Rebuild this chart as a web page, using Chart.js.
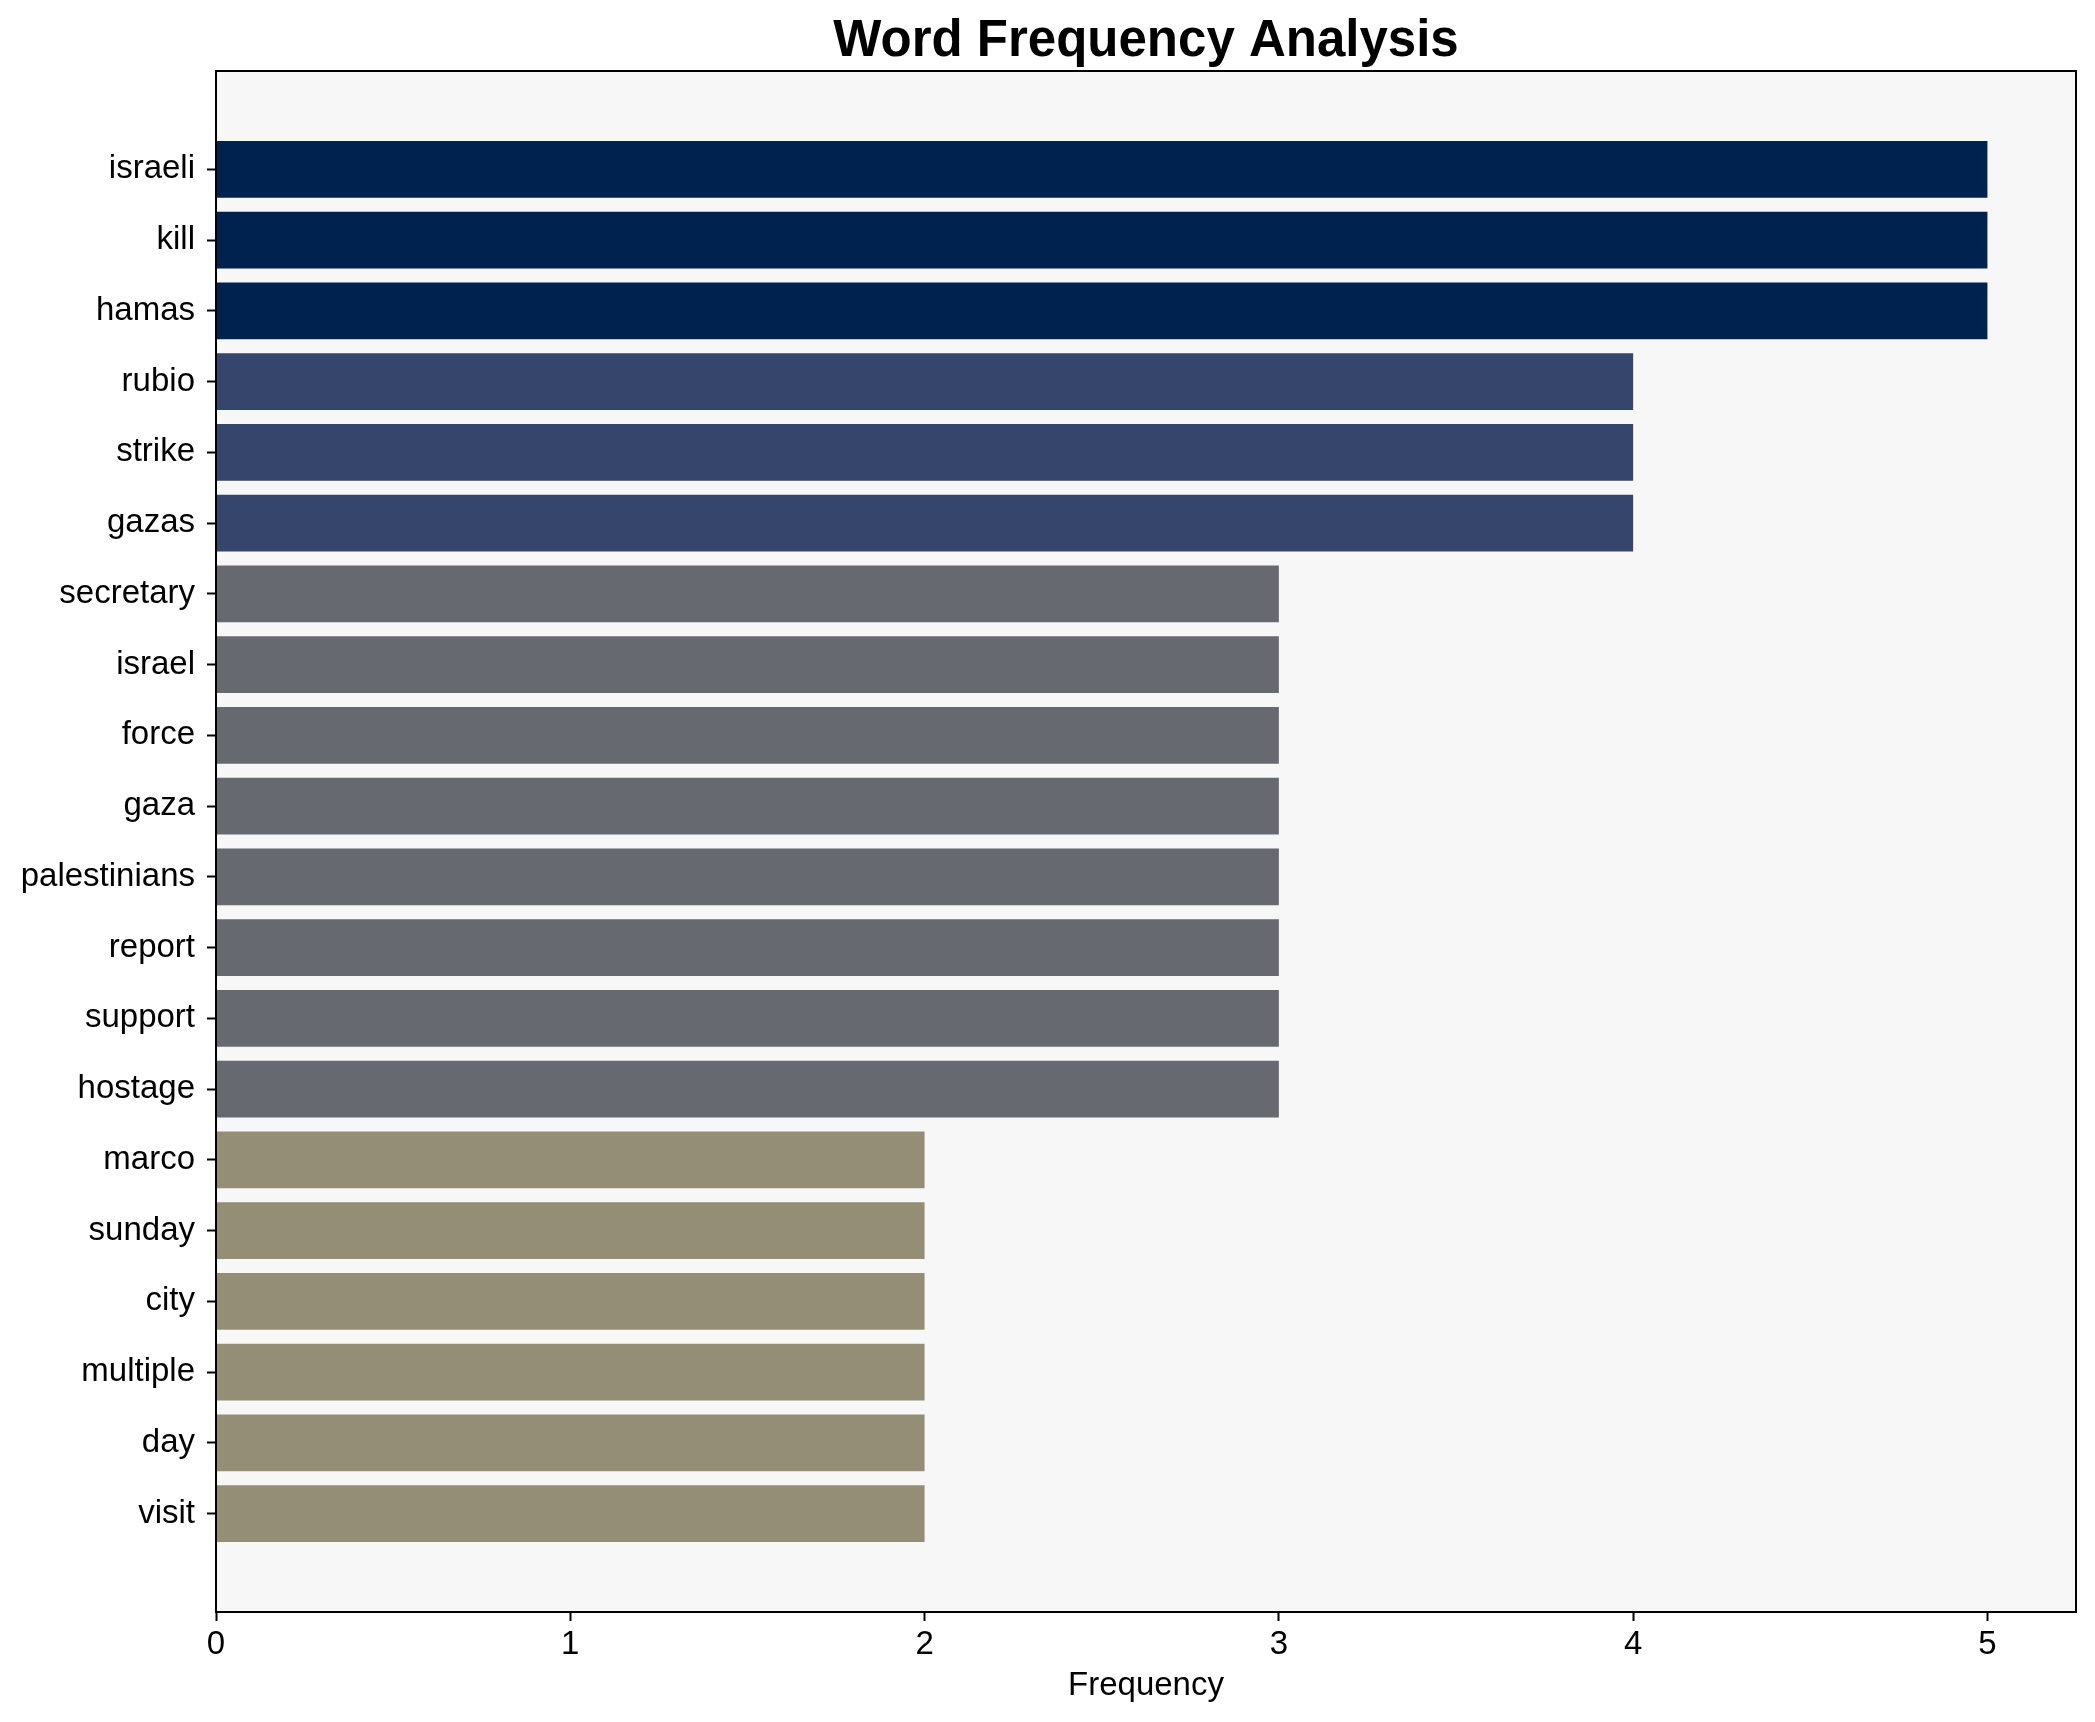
<!DOCTYPE html>
<html>
<head>
<meta charset="utf-8">
<script src="https://cdn.jsdelivr.net/npm/chart.js@4/dist/chart.umd.min.js"></script>
<style>
  body { margin: 0; background: #ffffff; }
  canvas { display: block; }
</style>
</head>
<body>
<canvas id="wordChart" width="2095" height="1722"></canvas>
<script>
// Word frequency data (top to bottom)
const words = ["israeli", "kill", "hamas", "rubio", "strike", "gazas", "secretary", "israel", "force", "gaza",
  "palestinians", "report", "support", "hostage", "marco", "sunday", "city", "multiple", "day", "visit"];
const counts = [5, 5, 5, 4, 4, 4, 3, 3, 3, 3, 3, 3, 3, 3, 2, 2, 2, 2, 2, 2];
const xTicks = [0, 1, 2, 3, 4, 5];

// colour per frequency value (cividis-like)
const levelColors = { 5: "#00224e", 4: "#35456c", 3: "#666970", 2: "#948e77" };

const FONT = "'Liberation Sans', Arial, sans-serif";

// Plot background + frame + title
const framePlugin = {
    id: "frame",
    beforeDraw(chart) {
        const { ctx, chartArea: a } = chart;
        ctx.save();
        ctx.fillStyle = "#f7f7f7";
        ctx.fillRect(a.left, a.top, a.right - a.left, a.bottom - a.top);
        ctx.restore();
    },
    afterDraw(chart) {
        const { ctx, chartArea: a } = chart;
        ctx.save();
        ctx.strokeStyle = "#000";
        ctx.lineWidth = 2;
        ctx.strokeRect(a.left, a.top, a.right - a.left, a.bottom - a.top);
        ctx.fillStyle = "#000";
        ctx.font = "bold 51px " + FONT;
        ctx.textAlign = "center";
        ctx.textBaseline = "alphabetic";
        ctx.fillText("Word Frequency Analysis", (a.left + a.right) / 2, 56);
        ctx.restore();
    }
};

const ctx = document.getElementById("wordChart").getContext("2d");

new Chart(ctx, {
    type: "bar",
    data: {
        datasets: [{
            data: counts.map((c, i) => ({ x: c, y: i })),
            backgroundColor: counts.map(c => levelColors[c]),
            barPercentage: 0.8,
            categoryPercentage: 1.0,
            borderWidth: 0
        }]
    },
    options: {
        indexAxis: "y",
        responsive: false,
        devicePixelRatio: 1,
        animation: false,
        layout: { padding: { top: 71, right: 19, left: 0, bottom: 0 } },
        plugins: {
            legend: { display: false },
            tooltip: { enabled: false }
        },
        scales: {
            x: {
                type: "linear",
                min: 0,
                max: 5.25,
                afterBuildTicks: axis => { axis.ticks = xTicks.map(v => ({ value: v })); },
                afterFit: axis => { axis.height = 110; },
                grid: { drawOnChartArea: false, drawTicks: true, tickLength: 9, tickColor: "#000", tickWidth: 2 },
                border: { display: true, color: "#000", width: 2 },
                ticks: { color: "#000", font: { family: FONT, size: 33 }, padding: 4 },
                title: { display: true, text: "Frequency", color: "#000", font: { family: FONT, size: 33 }, padding: { top: 0, bottom: 16 } }
            },
            y: {
                type: "linear",
                reverse: true,
                offset: false,
                min: -1.39,
                max: 20.39,
                afterBuildTicks: axis => { axis.ticks = words.map((w, i) => ({ value: i })); },
                afterFit: axis => { axis.width = 216; },
                grid: { offset: false, drawOnChartArea: false, drawTicks: true, tickLength: 9, tickColor: "#000", tickWidth: 2 },
                border: { display: true, color: "#000", width: 2 },
                ticks: {
                    color: "#000",
                    font: { family: FONT, size: 33 },
                    padding: 12,
                    callback: v => words[v]
                }
            }
        }
    },
    plugins: [framePlugin]
});
</script>
</body>
</html>
